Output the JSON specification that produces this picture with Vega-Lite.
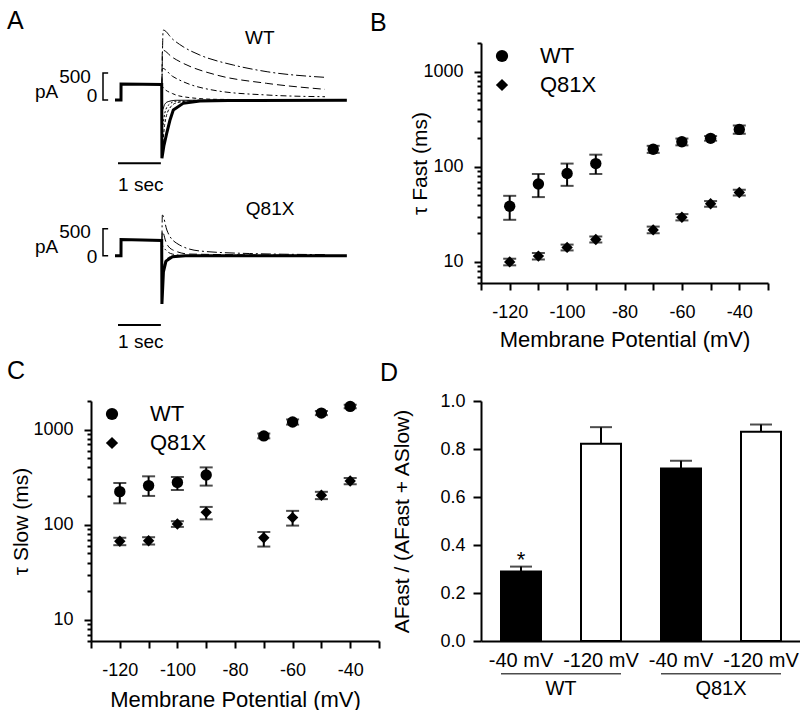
{
  "$schema": "https://vega.github.io/schema/vega-lite/v6.json",
  "padding": {"left": 7, "top": 9, "right": 0, "bottom": 0},
  "bounds": "flush",
  "align": "none",
  "columns": 2,
  "spacing": {"row": 118, "column": 99},
  "resolve": {"scale": {"shape": "independent"}, "legend": {"shape": "independent"}},
  "datasets": {
    "traces": [
      {"panel": "WT", "trace": "w0", "i": 1, "t": -0.14, "pA": 0},
      {"panel": "WT", "trace": "w0", "i": 2, "t": 0, "pA": 0},
      {"panel": "WT", "trace": "w0", "i": 3, "t": 0.001, "pA": 295},
      {"panel": "WT", "trace": "w0", "i": 4, "t": 0.5, "pA": 292},
      {"panel": "WT", "trace": "w0", "i": 5, "t": 0.95, "pA": 288},
      {"panel": "WT", "trace": "w0", "i": 6, "t": 0.955, "pA": -1080},
      {"panel": "WT", "trace": "w0", "i": 7, "t": 1.0, "pA": -850},
      {"panel": "WT", "trace": "w0", "i": 8, "t": 1.066, "pA": -617},
      {"panel": "WT", "trace": "w0", "i": 9, "t": 1.14, "pA": -380},
      {"panel": "WT", "trace": "w0", "i": 10, "t": 1.22, "pA": -185},
      {"panel": "WT", "trace": "w0", "i": 11, "t": 1.45, "pA": -62},
      {"panel": "WT", "trace": "w0", "i": 12, "t": 1.84, "pA": -19},
      {"panel": "WT", "trace": "w0", "i": 13, "t": 2.5, "pA": -8},
      {"panel": "WT", "trace": "w0", "i": 14, "t": 5.27, "pA": -5},
      {"panel": "WT", "trace": "w1", "i": 1, "t": 0.955, "pA": 288},
      {"panel": "WT", "trace": "w1", "i": 2, "t": 0.985, "pA": 1296},
      {"panel": "WT", "trace": "w1", "i": 3, "t": 1.2, "pA": 1130},
      {"panel": "WT", "trace": "w1", "i": 4, "t": 1.45, "pA": 987},
      {"panel": "WT", "trace": "w1", "i": 5, "t": 1.84, "pA": 833},
      {"panel": "WT", "trace": "w1", "i": 6, "t": 2.62, "pA": 648},
      {"panel": "WT", "trace": "w1", "i": 7, "t": 3.41, "pA": 524},
      {"panel": "WT", "trace": "w1", "i": 8, "t": 4.76, "pA": 420},
      {"panel": "WT", "trace": "w2", "i": 1, "t": 0.955, "pA": 288},
      {"panel": "WT", "trace": "w2", "i": 2, "t": 0.965, "pA": 926},
      {"panel": "WT", "trace": "w2", "i": 3, "t": 1.2, "pA": 790},
      {"panel": "WT", "trace": "w2", "i": 4, "t": 1.45, "pA": 680},
      {"panel": "WT", "trace": "w2", "i": 5, "t": 2.23, "pA": 463},
      {"panel": "WT", "trace": "w2", "i": 6, "t": 3.4, "pA": 309},
      {"panel": "WT", "trace": "w2", "i": 7, "t": 4.76, "pA": 198},
      {"panel": "WT", "trace": "w3", "i": 1, "t": 0.955, "pA": 288},
      {"panel": "WT", "trace": "w3", "i": 2, "t": 0.965, "pA": 587},
      {"panel": "WT", "trace": "w3", "i": 3, "t": 1.2, "pA": 440},
      {"panel": "WT", "trace": "w3", "i": 4, "t": 1.45, "pA": 339},
      {"panel": "WT", "trace": "w3", "i": 5, "t": 2.23, "pA": 172},
      {"panel": "WT", "trace": "w3", "i": 6, "t": 3.4, "pA": 93},
      {"panel": "WT", "trace": "w3", "i": 7, "t": 4.76, "pA": 61},
      {"panel": "WT", "trace": "w4", "i": 1, "t": 0.955, "pA": 288},
      {"panel": "WT", "trace": "w4", "i": 2, "t": 0.965, "pA": 246},
      {"panel": "WT", "trace": "w4", "i": 3, "t": 1.2, "pA": 120},
      {"panel": "WT", "trace": "w4", "i": 4, "t": 1.45, "pA": 61},
      {"panel": "WT", "trace": "w4", "i": 5, "t": 2.23, "pA": 13},
      {"panel": "WT", "trace": "w4", "i": 6, "t": 4.76, "pA": 0},
      {"panel": "WT", "trace": "w5", "i": 1, "t": 0.955, "pA": 288},
      {"panel": "WT", "trace": "w5", "i": 2, "t": 0.965, "pA": -800},
      {"panel": "WT", "trace": "w5", "i": 3, "t": 1.02, "pA": -450},
      {"panel": "WT", "trace": "w5", "i": 4, "t": 1.1, "pA": -200},
      {"panel": "WT", "trace": "w5", "i": 5, "t": 1.3, "pA": -50},
      {"panel": "WT", "trace": "w5", "i": 6, "t": 1.8, "pA": -5},
      {"panel": "WT", "trace": "w5", "i": 7, "t": 4.76, "pA": 0},
      {"panel": "WT", "trace": "w6", "i": 1, "t": 0.955, "pA": 288},
      {"panel": "WT", "trace": "w6", "i": 2, "t": 0.965, "pA": -494},
      {"panel": "WT", "trace": "w6", "i": 3, "t": 1.02, "pA": -250},
      {"panel": "WT", "trace": "w6", "i": 4, "t": 1.1, "pA": -100},
      {"panel": "WT", "trace": "w6", "i": 5, "t": 1.3, "pA": -20},
      {"panel": "WT", "trace": "w6", "i": 6, "t": 4.76, "pA": 0},
      {"panel": "WT", "trace": "w7", "i": 1, "t": 0.955, "pA": 288},
      {"panel": "WT", "trace": "w7", "i": 2, "t": 0.965, "pA": -185},
      {"panel": "WT", "trace": "w7", "i": 3, "t": 1.02, "pA": -80},
      {"panel": "WT", "trace": "w7", "i": 4, "t": 1.1, "pA": -30},
      {"panel": "WT", "trace": "w7", "i": 5, "t": 1.3, "pA": -5},
      {"panel": "WT", "trace": "w7", "i": 6, "t": 4.76, "pA": 0},
      {"panel": "Q81X", "trace": "q0", "i": 1, "t": -0.14, "pA": 0},
      {"panel": "Q81X", "trace": "q0", "i": 2, "t": 0, "pA": 0},
      {"panel": "Q81X", "trace": "q0", "i": 3, "t": 0.001, "pA": 300},
      {"panel": "Q81X", "trace": "q0", "i": 4, "t": 0.5, "pA": 290},
      {"panel": "Q81X", "trace": "q0", "i": 5, "t": 0.95, "pA": 280},
      {"panel": "Q81X", "trace": "q0", "i": 6, "t": 0.955, "pA": -894},
      {"panel": "Q81X", "trace": "q0", "i": 7, "t": 0.99, "pA": -300},
      {"panel": "Q81X", "trace": "q0", "i": 8, "t": 1.05, "pA": -100},
      {"panel": "Q81X", "trace": "q0", "i": 9, "t": 1.2, "pA": -20},
      {"panel": "Q81X", "trace": "q0", "i": 10, "t": 1.5, "pA": 0},
      {"panel": "Q81X", "trace": "q0", "i": 11, "t": 5.27, "pA": 0},
      {"panel": "Q81X", "trace": "q1", "i": 1, "t": 0.955, "pA": 280},
      {"panel": "Q81X", "trace": "q1", "i": 2, "t": 0.965, "pA": 754},
      {"panel": "Q81X", "trace": "q1", "i": 3, "t": 1.07, "pA": 476},
      {"panel": "Q81X", "trace": "q1", "i": 4, "t": 1.3, "pA": 230},
      {"panel": "Q81X", "trace": "q1", "i": 5, "t": 1.84, "pA": 87},
      {"panel": "Q81X", "trace": "q1", "i": 6, "t": 3.0, "pA": 40},
      {"panel": "Q81X", "trace": "q1", "i": 7, "t": 4.76, "pA": 20},
      {"panel": "Q81X", "trace": "q2", "i": 1, "t": 0.955, "pA": 280},
      {"panel": "Q81X", "trace": "q2", "i": 2, "t": 0.965, "pA": 450},
      {"panel": "Q81X", "trace": "q2", "i": 3, "t": 1.05, "pA": 250},
      {"panel": "Q81X", "trace": "q2", "i": 4, "t": 1.2, "pA": 110},
      {"panel": "Q81X", "trace": "q2", "i": 5, "t": 1.6, "pA": 30},
      {"panel": "Q81X", "trace": "q2", "i": 6, "t": 4.76, "pA": 5},
      {"panel": "Q81X", "trace": "q3", "i": 1, "t": 0.955, "pA": 280},
      {"panel": "Q81X", "trace": "q3", "i": 2, "t": 0.965, "pA": 200},
      {"panel": "Q81X", "trace": "q3", "i": 3, "t": 1.05, "pA": 100},
      {"panel": "Q81X", "trace": "q3", "i": 4, "t": 1.2, "pA": 30},
      {"panel": "Q81X", "trace": "q3", "i": 5, "t": 1.5, "pA": 0},
      {"panel": "Q81X", "trace": "q3", "i": 6, "t": 4.76, "pA": 0},
      {"panel": "Q81X", "trace": "q4", "i": 1, "t": 0.955, "pA": 280},
      {"panel": "Q81X", "trace": "q4", "i": 2, "t": 0.965, "pA": -400},
      {"panel": "Q81X", "trace": "q4", "i": 3, "t": 1.02, "pA": -120},
      {"panel": "Q81X", "trace": "q4", "i": 4, "t": 1.15, "pA": -20},
      {"panel": "Q81X", "trace": "q4", "i": 5, "t": 1.4, "pA": 0},
      {"panel": "Q81X", "trace": "q4", "i": 6, "t": 4.76, "pA": 0}
    ],
    "brackets": [
      {"panel": "WT", "i": 1, "t": -0.3, "pA": 500},
      {"panel": "WT", "i": 2, "t": -0.42, "pA": 500},
      {"panel": "WT", "i": 3, "t": -0.42, "pA": 0},
      {"panel": "WT", "i": 4, "t": -0.3, "pA": 0},
      {"panel": "Q81X", "i": 1, "t": -0.3, "pA": 500},
      {"panel": "Q81X", "i": 2, "t": -0.42, "pA": 500},
      {"panel": "Q81X", "i": 3, "t": -0.42, "pA": 0},
      {"panel": "Q81X", "i": 4, "t": -0.3, "pA": 0}
    ],
    "timebars": [
      {"panel": "WT", "t1": -0.07, "t2": 0.93, "pA": -1173},
      {"panel": "Q81X", "t1": -0.07, "t2": 0.93, "pA": -1283}
    ],
    "labelsA": [
      {"panel": "WT", "text": "500", "t": -1.073, "pA": 315},
      {"panel": "WT", "text": "0", "t": -0.677, "pA": -37},
      {"panel": "WT", "text": "pA", "t": -1.738, "pA": 37},
      {"panel": "WT", "text": "1 sec", "t": 0.462, "pA": -1685},
      {"panel": "WT", "text": "WT", "t": 3.24, "pA": 1037},
      {"panel": "Q81X", "text": "500", "t": -1.073, "pA": 322},
      {"panel": "Q81X", "text": "0", "t": -0.677, "pA": -141},
      {"panel": "Q81X", "text": "pA", "t": -1.738, "pA": 50},
      {"panel": "Q81X", "text": "1 sec", "t": 0.462, "pA": -1704},
      {"panel": "Q81X", "text": "Q81X", "t": 3.48, "pA": 754}
    ],
    "tauFast": [
      {"g": "WT", "mV": -120, "tau": 38.5, "lo": 27.7, "hi": 49.5},
      {"g": "WT", "mV": -110, "tau": 66, "lo": 48, "hi": 84},
      {"g": "WT", "mV": -100, "tau": 85, "lo": 63, "hi": 108},
      {"g": "WT", "mV": -90, "tau": 108, "lo": 84, "hi": 134},
      {"g": "WT", "mV": -70, "tau": 153, "lo": 140, "hi": 166},
      {"g": "WT", "mV": -60, "tau": 183, "lo": 168, "hi": 198},
      {"g": "WT", "mV": -50, "tau": 199, "lo": 188, "hi": 210},
      {"g": "WT", "mV": -40, "tau": 247, "lo": 222, "hi": 272},
      {"g": "Q81X", "mV": -120, "tau": 10, "lo": 9.2, "hi": 10.8},
      {"g": "Q81X", "mV": -110, "tau": 11.5, "lo": 10.6, "hi": 12.4},
      {"g": "Q81X", "mV": -100, "tau": 14.2, "lo": 13.2, "hi": 15.2},
      {"g": "Q81X", "mV": -90, "tau": 17.2, "lo": 16, "hi": 18.5},
      {"g": "Q81X", "mV": -70, "tau": 21.7, "lo": 20, "hi": 23.5},
      {"g": "Q81X", "mV": -60, "tau": 29.5, "lo": 27.3, "hi": 31.8},
      {"g": "Q81X", "mV": -50, "tau": 40.8, "lo": 38, "hi": 43.6},
      {"g": "Q81X", "mV": -40, "tau": 53.7, "lo": 50, "hi": 57.5}
    ],
    "tauSlow": [
      {"g": "WT", "mV": -120, "tau": 223, "lo": 168, "hi": 275},
      {"g": "WT", "mV": -110, "tau": 258, "lo": 201, "hi": 323},
      {"g": "WT", "mV": -100, "tau": 279, "lo": 232, "hi": 318},
      {"g": "WT", "mV": -90, "tau": 333, "lo": 258, "hi": 401},
      {"g": "WT", "mV": -70, "tau": 859, "lo": 810, "hi": 910},
      {"g": "WT", "mV": -60, "tau": 1203, "lo": 1130, "hi": 1280},
      {"g": "WT", "mV": -50, "tau": 1493, "lo": 1420, "hi": 1570},
      {"g": "WT", "mV": -40, "tau": 1754, "lo": 1680, "hi": 1830},
      {"g": "Q81X", "mV": -120, "tau": 67, "lo": 61, "hi": 73},
      {"g": "Q81X", "mV": -110, "tau": 68, "lo": 62, "hi": 74},
      {"g": "Q81X", "mV": -100, "tau": 102, "lo": 95, "hi": 109},
      {"g": "Q81X", "mV": -90, "tau": 135, "lo": 114, "hi": 154},
      {"g": "Q81X", "mV": -70, "tau": 73, "lo": 59, "hi": 84},
      {"g": "Q81X", "mV": -60, "tau": 119, "lo": 98, "hi": 140},
      {"g": "Q81X", "mV": -50, "tau": 204, "lo": 186, "hi": 222},
      {"g": "Q81X", "mV": -40, "tau": 288, "lo": 266, "hi": 310}
    ],
    "ratio": [
      {"group": "WT", "cat": "WT|-40 mV", "mv": "-40 mV", "mean": 0.29, "upper": 0.31, "star": "*"},
      {"group": "WT", "cat": "WT|-120 mV", "mv": "-120 mV", "mean": 0.822, "upper": 0.891, "star": ""},
      {"group": "Q81X", "cat": "Q81X|-40 mV", "mv": "-40 mV", "mean": 0.719, "upper": 0.751, "star": ""},
      {"group": "Q81X", "cat": "Q81X|-120 mV", "mv": "-120 mV", "mean": 0.872, "upper": 0.902, "star": ""}
    ],
    "groups": [
      {"group": "WT", "first": "WT|-40 mV"},
      {"group": "Q81X", "first": "Q81X|-40 mV"}
    ]
  },
  "concat": [
    {
      "width": 291,
      "height": 240,
      "title": {"text": "A", "dx": -84, "dy": 10},
      "resolve": {"scale": {"y": "independent"}},
      "layer": [
        {
          "layer": [
            {
              "data": {"name": "traces"},
              "transform": [{"filter": "datum.panel == 'WT' && datum.trace != 'w0'"}],
              "mark": {"type": "line", "color": "black", "strokeWidth": 1, "interpolate": "monotone"},
              "encoding": {
                "x": {"field": "t", "type": "quantitative", "scale": {"domain": [-0.7, 6.09], "nice": false, "zero": false}, "axis": null},
                "y": {"field": "pA", "type": "quantitative", "scale": {"domain": [-3389, 1056], "nice": false, "zero": false}, "axis": null},
                "detail": {"field": "trace", "type": "nominal"},
                "order": {"field": "i", "type": "quantitative"},
                "strokeDash": {"field": "trace", "type": "nominal", "legend": null, "scale": {"domain": ["w1", "w2", "w3", "w4", "w5", "w6", "w7"], "range": [[10, 3, 2, 3], [8, 4], [6, 3, 2, 3], [4, 3], [3, 2], [2, 2], [1, 0]]}}
              }
            },
            {
              "data": {"name": "traces"},
              "transform": [{"filter": "datum.panel == 'WT' && datum.trace == 'w0'"}],
              "mark": {"type": "line", "color": "black", "strokeWidth": 3, "interpolate": "linear"},
              "encoding": {
                "x": {"field": "t", "type": "quantitative", "scale": {"domain": [-0.7, 6.09], "nice": false, "zero": false}, "axis": null},
                "y": {"field": "pA", "type": "quantitative", "scale": {"domain": [-3389, 1056], "nice": false, "zero": false}, "axis": null},
                "order": {"field": "i", "type": "quantitative"}
              }
            },
            {
              "data": {"name": "brackets"},
              "transform": [{"filter": "datum.panel == 'WT'"}],
              "mark": {"type": "line", "color": "black", "strokeWidth": 1.5},
              "encoding": {
                "x": {"field": "t", "type": "quantitative", "scale": {"domain": [-0.7, 6.09], "nice": false, "zero": false}, "axis": null},
                "y": {"field": "pA", "type": "quantitative", "scale": {"domain": [-3389, 1056], "nice": false, "zero": false}, "axis": null},
                "order": {"field": "i", "type": "quantitative"}
              }
            },
            {
              "data": {"name": "timebars"},
              "transform": [{"filter": "datum.panel == 'WT'"}],
              "mark": {"type": "rule", "color": "black", "strokeWidth": 2},
              "encoding": {
                "x": {"field": "t1", "type": "quantitative", "scale": {"domain": [-0.7, 6.09], "nice": false, "zero": false}, "axis": null},
                "x2": {"field": "t2"},
                "y": {"field": "pA", "type": "quantitative", "scale": {"domain": [-3389, 1056], "nice": false, "zero": false}, "axis": null}
              }
            },
            {
              "data": {"name": "labelsA"},
              "transform": [{"filter": "datum.panel == 'WT'"}],
              "mark": {"type": "text", "color": "black", "fontSize": 19, "align": "center", "baseline": "alphabetic"},
              "encoding": {
                "x": {"field": "t", "type": "quantitative", "scale": {"domain": [-0.7, 6.09], "nice": false, "zero": false}, "axis": null},
                "y": {"field": "pA", "type": "quantitative", "scale": {"domain": [-3389, 1056], "nice": false, "zero": false}, "axis": null},
                "text": {"field": "text"}
              }
            }
          ]
        },
        {
          "layer": [
            {
              "data": {"name": "traces"},
              "transform": [{"filter": "datum.panel == 'Q81X' && datum.trace != 'q0'"}],
              "mark": {"type": "line", "color": "black", "strokeWidth": 1, "interpolate": "monotone"},
              "encoding": {
                "x": {"field": "t", "type": "quantitative", "scale": {"domain": [-0.7, 6.09], "nice": false, "zero": false}, "axis": null},
                "y": {"field": "pA", "type": "quantitative", "scale": {"domain": [-506, 3939], "nice": false, "zero": false}, "axis": null},
                "detail": {"field": "trace", "type": "nominal"},
                "order": {"field": "i", "type": "quantitative"},
                "strokeDash": {"field": "trace", "type": "nominal", "legend": null, "scale": {"domain": ["q1", "q2", "q3", "q4"], "range": [[3, 2], [2, 2], [1, 2], [1, 0]]}}
              }
            },
            {
              "data": {"name": "traces"},
              "transform": [{"filter": "datum.panel == 'Q81X' && datum.trace == 'q0'"}],
              "mark": {"type": "line", "color": "black", "strokeWidth": 3, "interpolate": "linear"},
              "encoding": {
                "x": {"field": "t", "type": "quantitative", "scale": {"domain": [-0.7, 6.09], "nice": false, "zero": false}, "axis": null},
                "y": {"field": "pA", "type": "quantitative", "scale": {"domain": [-506, 3939], "nice": false, "zero": false}, "axis": null},
                "order": {"field": "i", "type": "quantitative"}
              }
            },
            {
              "data": {"name": "brackets"},
              "transform": [{"filter": "datum.panel == 'Q81X'"}],
              "mark": {"type": "line", "color": "black", "strokeWidth": 1.5},
              "encoding": {
                "x": {"field": "t", "type": "quantitative", "scale": {"domain": [-0.7, 6.09], "nice": false, "zero": false}, "axis": null},
                "y": {"field": "pA", "type": "quantitative", "scale": {"domain": [-506, 3939], "nice": false, "zero": false}, "axis": null},
                "order": {"field": "i", "type": "quantitative"}
              }
            },
            {
              "data": {"name": "timebars"},
              "transform": [{"filter": "datum.panel == 'Q81X'"}],
              "mark": {"type": "rule", "color": "black", "strokeWidth": 2},
              "encoding": {
                "x": {"field": "t1", "type": "quantitative", "scale": {"domain": [-0.7, 6.09], "nice": false, "zero": false}, "axis": null},
                "x2": {"field": "t2"},
                "y": {"field": "pA", "type": "quantitative", "scale": {"domain": [-506, 3939], "nice": false, "zero": false}, "axis": null}
              }
            },
            {
              "data": {"name": "labelsA"},
              "transform": [{"filter": "datum.panel == 'Q81X'"}],
              "mark": {"type": "text", "color": "black", "fontSize": 19, "align": "center", "baseline": "alphabetic"},
              "encoding": {
                "x": {"field": "t", "type": "quantitative", "scale": {"domain": [-0.7, 6.09], "nice": false, "zero": false}, "axis": null},
                "y": {"field": "pA", "type": "quantitative", "scale": {"domain": [-506, 3939], "nice": false, "zero": false}, "axis": null},
                "text": {"field": "text"}
              }
            }
          ]
        }
      ]
    },
    {
      "width": 287,
      "height": 240,
      "title": {"text": "B", "dx": -111, "dy": 6},
      "data": {"name": "tauFast"},
      "encoding": {
        "x": {"field": "mV", "type": "quantitative", "scale": {"domain": [-130, -30], "nice": false, "zero": false},
          "axis": {"title": "Membrane Potential (mV)", "values": [-130, -120, -110, -100, -90, -80, -70, -60, -50, -40, -30], "labelExpr": "datum.value % 20 == 0 ? '' + datum.value : ''", "tickSize": 7, "labelPadding": 13, "titlePadding": 8, "labelFlush": false, "labelOverlap": false}}
      },
      "layer": [
        {
          "mark": {"type": "rule", "color": "black", "strokeWidth": 2},
          "encoding": {
            "y": {"field": "lo", "type": "quantitative", "title": "τ Fast (ms)", "scale": {"type": "log", "domain": [6, 2000], "nice": false}},
            "y2": {"field": "hi"}
          }
        },
        {
          "mark": {"type": "tick", "orient": "horizontal", "size": 13, "thickness": 2, "color": "black"},
          "encoding": {"y": {"field": "lo", "type": "quantitative", "title": "τ Fast (ms)", "scale": {"type": "log", "domain": [6, 2000], "nice": false}}}
        },
        {
          "mark": {"type": "tick", "orient": "horizontal", "size": 13, "thickness": 2, "color": "black"},
          "encoding": {"y": {"field": "hi", "type": "quantitative", "title": "τ Fast (ms)", "scale": {"type": "log", "domain": [6, 2000], "nice": false}}}
        },
        {
          "mark": {"type": "point", "filled": true, "color": "black", "size": 130, "opacity": 1},
          "encoding": {
            "y": {"field": "tau", "type": "quantitative", "title": "τ Fast (ms)", "scale": {"type": "log", "domain": [6, 2000], "nice": false},
              "axis": {"values": [6, 7, 8, 9, 10, 20, 30, 40, 50, 60, 70, 80, 90, 100, 200, 300, 400, 500, 600, 700, 800, 900, 1000, 2000], "labelExpr": "datum.value == 10 || datum.value == 100 || datum.value == 1000 ? '' + datum.value : ''", "tickSize": {"condition": {"test": "datum.value == 10 || datum.value == 100 || datum.value == 1000", "value": 7}, "value": 4}, "labelPadding": 11, "titlePadding": -8, "titleFontSize": 21, "labelOverlap": false}},
            "shape": {"field": "g", "type": "nominal", "scale": {"domain": ["WT", "Q81X"], "range": ["circle", "diamond"]},
              "legend": {"orient": "none", "legendX": 10, "legendY": 2, "title": null, "labelFontSize": 22, "labelOffset": 27, "symbolSize": 150, "symbolFillColor": "black", "symbolStrokeColor": "black", "symbolStrokeWidth": 0, "rowPadding": 7, "padding": 0, "labelColor": "black"}}
          }
        }
      ]
    },
    {
      "width": 288,
      "height": 240,
      "title": {"text": "C", "dx": -84, "dy": -4},
      "data": {"name": "tauSlow"},
      "encoding": {
        "x": {"field": "mV", "type": "quantitative", "scale": {"domain": [-130, -30], "nice": false, "zero": false},
          "axis": {"title": "Membrane Potential (mV)", "values": [-130, -120, -110, -100, -90, -80, -70, -60, -50, -40, -30], "labelExpr": "datum.value % 20 == 0 ? '' + datum.value : ''", "tickSize": 7, "labelPadding": 13, "titlePadding": 10, "labelFlush": false, "labelOverlap": false}}
      },
      "layer": [
        {
          "mark": {"type": "rule", "color": "black", "strokeWidth": 2},
          "encoding": {
            "y": {"field": "lo", "type": "quantitative", "title": "τ Slow (ms)", "scale": {"type": "log", "domain": [6, 2000], "nice": false}},
            "y2": {"field": "hi"}
          }
        },
        {
          "mark": {"type": "tick", "orient": "horizontal", "size": 13, "thickness": 2, "color": "black"},
          "encoding": {"y": {"field": "lo", "type": "quantitative", "title": "τ Slow (ms)", "scale": {"type": "log", "domain": [6, 2000], "nice": false}}}
        },
        {
          "mark": {"type": "tick", "orient": "horizontal", "size": 13, "thickness": 2, "color": "black"},
          "encoding": {"y": {"field": "hi", "type": "quantitative", "title": "τ Slow (ms)", "scale": {"type": "log", "domain": [6, 2000], "nice": false}}}
        },
        {
          "mark": {"type": "point", "filled": true, "color": "black", "size": 130, "opacity": 1},
          "encoding": {
            "y": {"field": "tau", "type": "quantitative", "title": "τ Slow (ms)", "scale": {"type": "log", "domain": [6, 2000], "nice": false},
              "axis": {"values": [6, 7, 8, 9, 10, 20, 30, 40, 50, 60, 70, 80, 90, 100, 200, 300, 400, 500, 600, 700, 800, 900, 1000, 2000], "labelExpr": "datum.value == 10 || datum.value == 100 || datum.value == 1000 ? '' + datum.value : ''", "tickSize": {"condition": {"test": "datum.value == 10 || datum.value == 100 || datum.value == 1000", "value": 7}, "value": 4}, "labelPadding": 11, "titlePadding": 1, "titleFontSize": 21, "labelOverlap": false}},
            "shape": {"field": "g", "type": "nominal", "scale": {"domain": ["WT", "Q81X"], "range": ["circle", "diamond"]},
              "legend": {"orient": "none", "legendX": 10, "legendY": 2, "title": null, "labelFontSize": 22, "labelOffset": 27, "symbolSize": 150, "symbolFillColor": "black", "symbolStrokeColor": "black", "symbolStrokeWidth": 0, "rowPadding": 7, "padding": 0, "labelColor": "black"}}
          }
        }
      ]
    },
    {
      "width": 320,
      "height": 240,
      "title": {"text": "D", "dx": -101, "dy": -2},
      "layer": [
        {
          "data": {"name": "ratio"},
          "mark": {"type": "bar", "stroke": "black", "strokeWidth": 2},
          "encoding": {
            "x": {"field": "cat", "type": "nominal", "sort": null, "scale": {"domain": ["WT|-40 mV", "WT|-120 mV", "Q81X|-40 mV", "Q81X|-120 mV"], "paddingInner": 0.5, "paddingOuter": 0.25},
              "axis": {"title": null, "ticks": false, "labelExpr": "split(datum.value, '|')[1]", "labelFontSize": 20, "labelPadding": 9, "labelAngle": 0}},
            "y": {"field": "mean", "type": "quantitative", "title": "AFast / (AFast + ASlow)", "scale": {"domain": [0, 1], "nice": false},
              "axis": {"values": [0, 0.1, 0.2, 0.3, 0.4, 0.5, 0.6, 0.7, 0.8, 0.9, 1.0], "labelExpr": "round(datum.value * 10) % 2 == 0 ? format(datum.value, '.1f') : ''", "tickSize": {"condition": {"test": "round(datum.value * 10) % 2 == 0", "value": 8}, "value": 4.5}, "labelPadding": 8, "titlePadding": 27, "titleFontSize": 21, "labelOverlap": false, "labelFlush": false}},
            "fill": {"field": "mv", "type": "nominal", "scale": {"domain": ["-40 mV", "-120 mV"], "range": ["black", "white"]}, "legend": null}
          }
        },
        {
          "data": {"name": "ratio"},
          "mark": {"type": "rule", "color": "black", "strokeWidth": 2},
          "encoding": {
            "x": {"field": "cat", "type": "nominal", "sort": null},
            "y": {"field": "mean", "type": "quantitative", "title": "AFast / (AFast + ASlow)"},
            "y2": {"field": "upper"}
          }
        },
        {
          "data": {"name": "ratio"},
          "mark": {"type": "tick", "orient": "horizontal", "size": 22, "thickness": 2, "color": "black"},
          "encoding": {
            "x": {"field": "cat", "type": "nominal", "sort": null},
            "y": {"field": "upper", "type": "quantitative", "title": "AFast / (AFast + ASlow)"}
          }
        },
        {
          "data": {"name": "ratio"},
          "mark": {"type": "text", "color": "black", "fontSize": 22, "baseline": "alphabetic", "align": "center"},
          "encoding": {
            "x": {"field": "cat", "type": "nominal", "sort": null},
            "y": {"field": "upper", "type": "quantitative", "title": "AFast / (AFast + ASlow)"},
            "text": {"field": "star"}
          }
        },
        {
          "data": {"name": "groups"},
          "mark": {"type": "tick", "orient": "horizontal", "size": 120, "thickness": 1.5, "color": "black", "xOffset": 40},
          "encoding": {
            "x": {"field": "first", "type": "nominal"},
            "y": {"datum": -0.136, "type": "quantitative"}
          }
        },
        {
          "data": {"name": "groups"},
          "mark": {"type": "text", "color": "black", "fontSize": 20, "baseline": "middle", "align": "center"},
          "encoding": {
            "x": {"field": "first", "type": "nominal", "bandPosition": 1.5},
            "y": {"datum": -0.2, "type": "quantitative"},
            "text": {"field": "group"}
          }
        }
      ]
    }
  ],
  "config": {
    "font": "Liberation Sans",
    "view": {"stroke": null},
    "axis": {"grid": false, "domainColor": "black", "domainWidth": 2, "tickColor": "black", "tickWidth": 2, "labelColor": "black", "titleColor": "black", "titleFontWeight": "normal", "labelFontSize": 18, "titleFontSize": 22, "labelFont": "Liberation Sans", "titleFont": "Liberation Sans"},
    "title": {"fontWeight": "normal", "fontSize": 25, "color": "black", "anchor": "start", "frame": "group", "font": "Liberation Sans"},
    "legend": {"labelFont": "Liberation Sans"}
  }
}
